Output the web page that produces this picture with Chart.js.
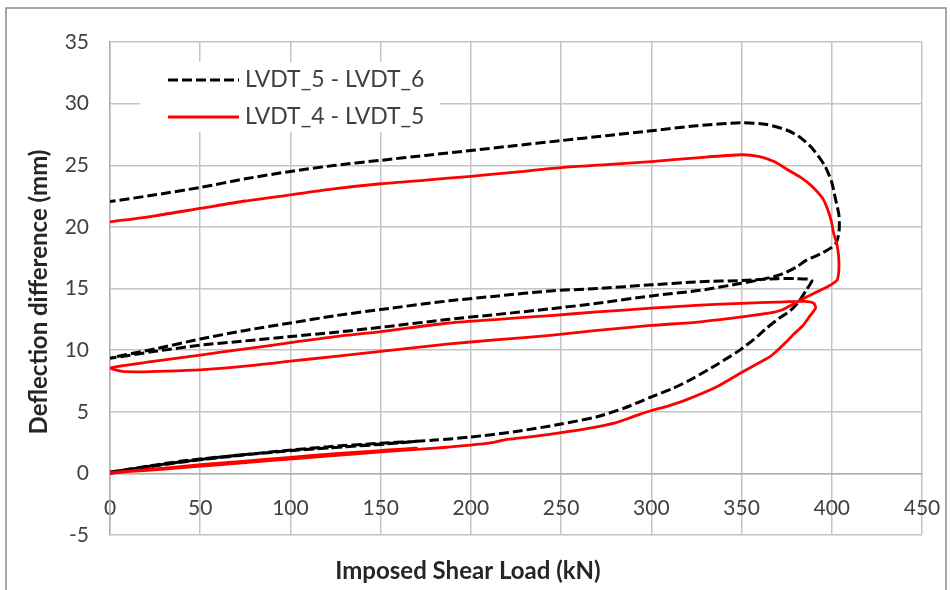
<!DOCTYPE html>
<html>
<head>
<meta charset="utf-8">
<script src="https://cdn.jsdelivr.net/npm/chart.js@4.4.1/dist/chart.umd.min.js"></script>
<style>
  html, body { margin: 0; padding: 0; background: #ffffff; }
  #wrap { position: relative; width: 950px; height: 590px; }
  canvas { display: block; }
</style>
</head>
<body>
<div id="wrap"><canvas id="c" width="950" height="590"></canvas></div>
<script>
// ---- Data ----
const seriesNames = ["LVDT_5 - LVDT_6", "LVDT_4 - LVDT_5"];
const xTicks = [0, 50, 100, 150, 200, 250, 300, 350, 400, 450];
const yTicks = [-5, 0, 5, 10, 15, 20, 25, 30, 35];
const xTitle = "Imposed Shear Load (kN)";
const yTitle = "Deflection difference (mm)";

// LVDT_5 - LVDT_6 (black dashed)
const loadA = [0, 25, 50, 75, 100, 125, 150, 170,
  150, 120, 90, 60, 30, 0,
  40, 80, 120, 160, 180, 200, 225, 250, 270, 285, 300, 312, 323, 336, 349, 357, 364, 371, 377, 382, 386, 389,
  388, 380, 370, 350, 327, 300, 270, 244, 215, 188, 150, 125, 100, 75, 50, 25, 0,
  25, 50, 75, 100, 125, 150, 188, 215, 244, 270, 300, 327, 349, 360, 371, 380, 386, 395, 402, 404, 404, 402, 400, 396, 389, 383, 376, 364, 350,
  325, 300, 275, 250, 225, 200, 175, 150, 125, 100, 75, 50, 25, 0];
const defA = [0, 0.6, 1.1, 1.5, 1.85, 2.1, 2.35, 2.6,
  2.45, 2.15, 1.75, 1.3, 0.75, 0.1,
  1.0, 1.6, 2.05, 2.5, 2.7, 2.95, 3.4, 4.0, 4.6, 5.3, 6.2, 6.9, 7.7, 8.8, 10.0, 10.9, 11.8, 12.6, 13.2, 14.0, 14.9, 15.6,
  15.75, 15.8, 15.8, 15.65, 15.55, 15.3, 15.0, 14.8, 14.4, 14.0, 13.3, 12.8, 12.2, 11.6, 10.9, 10.1, 9.35,
  9.9, 10.4, 10.75, 11.1, 11.45, 11.85, 12.5, 12.9, 13.35, 13.8, 14.4, 14.85, 15.4, 15.7, 16.1, 16.7, 17.3, 17.9, 18.6, 19.6, 20.9, 22.3, 23.6, 25.0, 26.4, 27.2, 27.8, 28.3, 28.45,
  28.2, 27.8, 27.4, 27.0, 26.6, 26.2, 25.8, 25.4, 25.0, 24.5, 23.9, 23.2, 22.6, 22.05];

// LVDT_4 - LVDT_5 (red solid)
const loadB = [0, 25, 50, 75, 100, 125, 150, 170,
  150, 120, 90, 60, 30, 0,
  40, 80, 120, 160, 185, 200, 210, 220, 235, 250, 265, 280, 290, 300, 310, 320, 336, 349, 360, 366, 370, 375, 379, 384, 388, 391,
  390, 385, 370, 350, 327, 300, 270, 244, 215, 188, 150, 125, 100, 75, 50, 25, 0,
  9, 31, 50, 75, 100, 125, 150, 188, 215, 244, 270, 300, 327, 350, 365, 373, 382, 390, 397, 403, 404, 403, 401, 400, 398, 395, 389, 383, 376, 368, 360, 350,
  325, 300, 275, 250, 225, 200, 175, 150, 125, 100, 75, 50, 25, 0];
const defB = [0, 0.35, 0.7, 1.0, 1.3, 1.6, 1.85, 2.05,
  1.75, 1.4, 1.05, 0.7, 0.35, 0.05,
  0.55, 1.05, 1.45, 1.85, 2.1, 2.3, 2.45, 2.75, 3.0, 3.3, 3.65, 4.1, 4.6, 5.1, 5.5, 6.0, 7.0, 8.1, 9.0, 9.5, 10.0, 10.7, 11.3, 12.0, 12.8, 13.4,
  13.8, 13.95, 13.9, 13.8, 13.65, 13.4, 13.1, 12.8, 12.5, 12.2, 11.5, 11.1, 10.6, 10.1, 9.6, 9.1, 8.55,
  8.25, 8.3, 8.4, 8.7, 9.1, 9.5, 9.9, 10.5, 10.85, 11.2, 11.6, 12.0, 12.3, 12.7, 13.0, 13.3, 14.0, 14.6, 15.1, 15.7, 17.0, 18.5, 19.5, 20.3, 21.3, 22.3, 23.3, 24.0, 24.6, 25.3, 25.7, 25.85,
  25.6, 25.3, 25.05, 24.8, 24.45, 24.1, 23.8, 23.5, 23.1, 22.6, 22.1, 21.5, 20.9, 20.4];

// ---- Build chart ----
const toPts = (xs, ys) => xs.map((x, i) => ({ x: x, y: ys[i] }));
const FONT = "Lato, 'Open Sans', 'DejaVu Sans', sans-serif";
const TXT = "#404040";

const decor = {
  id: 'decor',
  beforeDraw(chart) {
    const ctx = chart.ctx;
    ctx.save();
    ctx.fillStyle = '#ffffff';
    ctx.fillRect(0, 0, chart.width, chart.height);
    ctx.restore();
  },
  afterDraw(chart) {
    const ctx = chart.ctx;
    ctx.save();
    // outer frame
    ctx.strokeStyle = '#8c8c8c';
    ctx.lineWidth = 1.5;
    ctx.strokeRect(6, 8, 940, 600);
    // legend box (white, covers gridlines)
    ctx.fillStyle = '#ffffff';
    ctx.fillRect(140, 62, 300, 70);
    ctx.lineWidth = 3;
    ctx.strokeStyle = '#000000';
    ctx.setLineDash([10, 4]);
    ctx.beginPath(); ctx.moveTo(168, 80); ctx.lineTo(239, 80); ctx.stroke();
    ctx.setLineDash([]);
    ctx.strokeStyle = '#ff0000';
    ctx.beginPath(); ctx.moveTo(168, 117); ctx.lineTo(239, 117); ctx.stroke();
    ctx.fillStyle = TXT;
    ctx.font = "23px " + FONT;
    ctx.textBaseline = 'middle';
    ctx.textAlign = 'left';
    ctx.fillText(seriesNames[0], 245, 80);
    ctx.fillText(seriesNames[1], 245, 117);
    // axis titles
    ctx.fillStyle = '#262626';
    ctx.font = "bold 24px " + FONT;
    ctx.textAlign = 'center';
    ctx.fillText(xTitle, 468, 571);
    ctx.translate(39, 292);
    ctx.rotate(-Math.PI / 2);
    ctx.fillText(yTitle, 0, 0);
    ctx.restore();
  }
};

new Chart(document.getElementById('c'), {
  type: 'scatter',
  data: {
    datasets: [
      {
        label: seriesNames[0],
        data: toPts(loadA, defA),
        showLine: true,
        borderColor: '#000000',
        borderWidth: 3,
        borderDash: [10, 4],
        pointRadius: 0,
        tension: 0.25,
        fill: false,
        order: 2
      },
      {
        label: seriesNames[1],
        data: toPts(loadB, defB),
        showLine: true,
        borderColor: '#ff0000',
        borderWidth: 2.8,
        pointRadius: 0,
        tension: 0.25,
        fill: false,
        order: 1
      }
    ]
  },
  options: {
    responsive: false,
    animation: false,
    layout: { padding: { left: 0, top: 42, right: 28, bottom: 55 } },
    plugins: { legend: { display: false }, tooltip: { enabled: false } },
    scales: {
      x: {
        type: 'linear',
        position: { y: 0 },
        min: 0, max: 450,
        afterBuildTicks: (s) => { s.ticks = xTicks.map(v => ({ value: v })); },
        afterFit: (s) => { s.paddingLeft = 0; s.paddingRight = 0; },
        grid: { color: '#c4c4c4', lineWidth: 1.5, drawTicks: false },
        border: { color: '#b0b0b0', width: 1.5 },
        ticks: { color: TXT, font: { family: FONT, size: 21 }, padding: 22, maxRotation: 0 }
      },
      y: {
        type: 'linear',
        position: 'left',
        min: -5, max: 35,
        afterBuildTicks: (s) => { s.ticks = yTicks.map(v => ({ value: v })); },
        afterFit: (s) => { s.width = 110; },
        grid: { color: '#c4c4c4', lineWidth: 1.5, drawTicks: false },
        border: { color: '#b0b0b0', width: 1.5 },
        ticks: { color: TXT, font: { family: FONT, size: 21 }, padding: 21 }
      }
    }
  },
  plugins: [decor]
});
</script>
</body>
</html>
